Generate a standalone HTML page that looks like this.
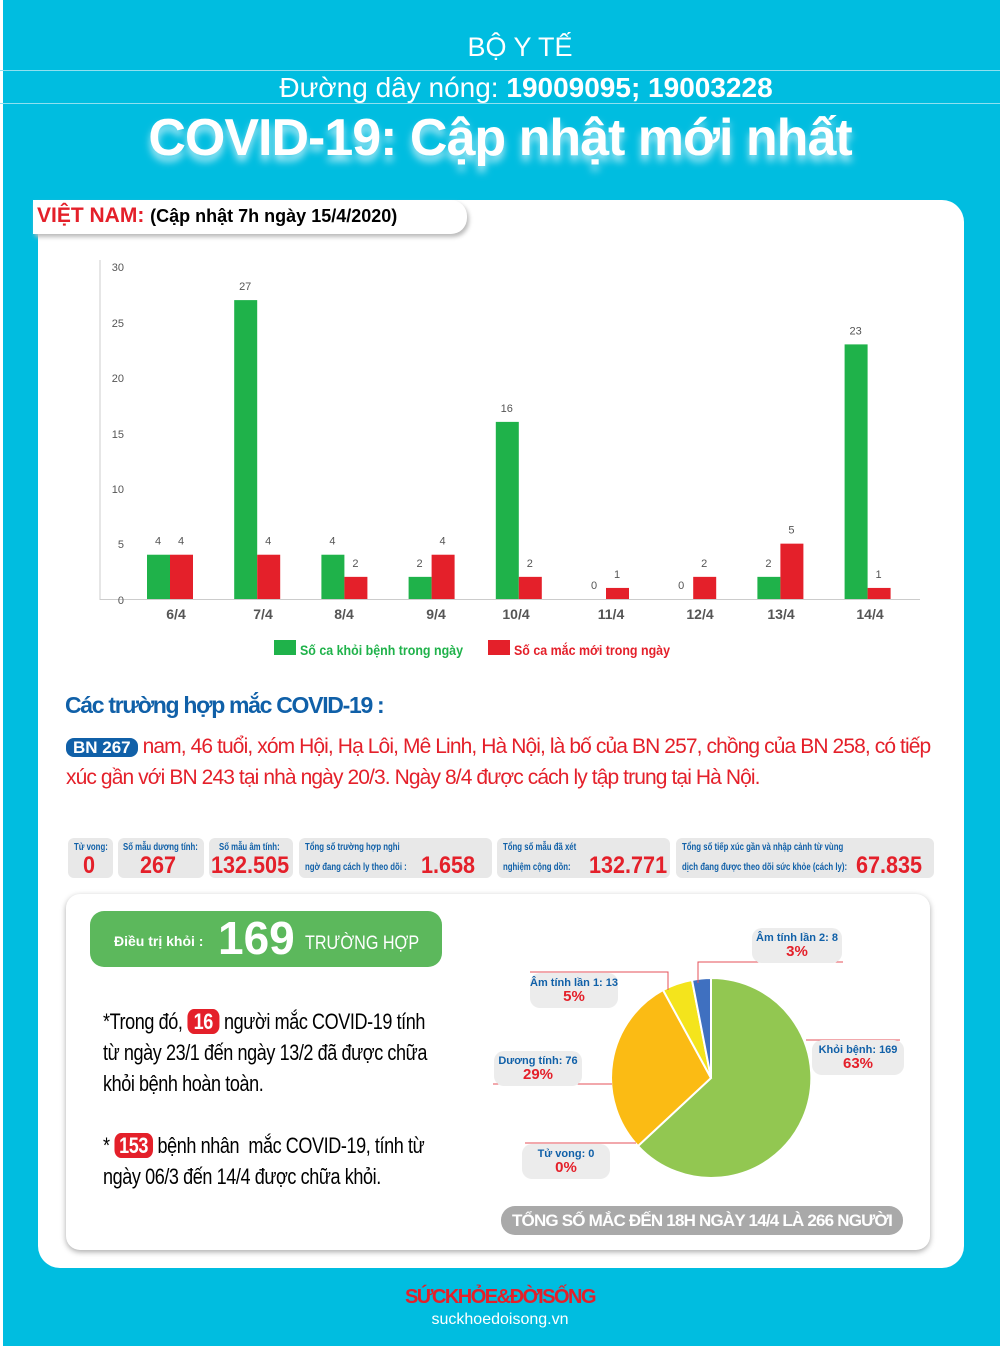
<!DOCTYPE html><html><head><meta charset="utf-8"><style>
body{margin:0;width:1000px;height:1346px;background:#00bde0;position:relative;overflow:hidden;font-family:"Liberation Sans",sans-serif}
.a{position:absolute}
.c{text-align:center}
.stat{position:absolute;top:838px;height:40px;background:#e8e8e8;border-radius:6px}
.stat .l{position:absolute;font-size:10px;color:#1060a8;font-weight:bold;white-space:nowrap;transform:scaleX(.78);transform-origin:left top}
.stat .v{position:absolute;font-size:24px;color:#e4202a;font-weight:bold;white-space:nowrap;transform:scaleX(.9);transform-origin:left top}
.lb{position:absolute;background:#ececec;border-radius:10px;text-align:center;font-size:11px;color:#1060a8;font-weight:bold;line-height:14px;padding-top:3px;white-space:nowrap}
.lb b{display:block;color:#e4202a;font-size:15px}
</style></head><body>
<div class="a" style="left:0;top:0;width:3px;height:1346px;background:#fff"></div>
<div class="a" style="left:0;top:70px;width:1000px;height:1px;background:#8fe0f0"></div>
<div class="a" style="left:0;top:103px;width:1000px;height:1px;background:#8fe0f0"></div>
<div class="a c" style="left:0;top:32px;width:1040px;color:#fff;font-size:27px">BỘ Y TẾ</div>
<div class="a c" style="left:0;top:72px;width:1052px;color:#fff;font-size:28px">Đường dây nóng: <b>19009095; 19003228</b></div>
<div class="a c" style="left:0;top:108px;width:1000px;color:#fff;font-size:52px;font-weight:bold;letter-spacing:-1px;text-shadow:0 6px 8px rgba(255,255,255,.7)">COVID-19: Cập nhật mới nhất</div>
<div class="a" style="left:38px;top:200px;width:926px;height:1068px;background:#fff;border-radius:22px"></div>
<div class="a" style="left:33px;top:200px;width:434px;height:34px;background:#fff;border-radius:0 16px 16px 0;box-shadow:2px 3px 4px #bbb"></div>
<div class="a" style="left:37px;top:204px;font-size:21px;font-weight:bold"><span style="color:#e4202a">VIỆT NAM:</span> <span style="font-size:18px">(Cập nhật 7h ngày 15/4/2020)</span></div>
<svg class="a" style="left:0;top:0" width="1000" height="700" font-family="Liberation Sans" font-size="11" fill="#555">
<line x1="100" y1="260" x2="100" y2="600" stroke="#ccc"/><line x1="100" y1="599.5" x2="920" y2="599.5" stroke="#ccc"/>
<g text-anchor="end"><text x="124" y="271">30</text><text x="124" y="327">25</text><text x="124" y="382">20</text><text x="124" y="438">15</text><text x="124" y="493">10</text><text x="124" y="548">5</text><text x="124" y="604">0</text></g>
<g id="bars"></g>
<g font-size="14" font-weight="bold" text-anchor="middle" fill="#555"><text x="176" y="619">6/4</text><text x="263" y="619">7/4</text><text x="344" y="619">8/4</text><text x="436" y="619">9/4</text><text x="516" y="619">10/4</text><text x="611" y="619">11/4</text><text x="700" y="619">12/4</text><text x="781" y="619">13/4</text><text x="870" y="619">14/4</text></g>
<rect x="274" y="640" width="22" height="15" fill="#1fb24a"/><text x="300" y="655" font-size="14" font-weight="bold" fill="#1fb24a" textLength="163" lengthAdjust="spacingAndGlyphs">Số ca khỏi bệnh trong ngày</text>
<rect x="488" y="640" width="22" height="15" fill="#e4202a"/><text x="514" y="655" font-size="14" font-weight="bold" fill="#e4202a" textLength="156" lengthAdjust="spacingAndGlyphs">Số ca mắc mới trong ngày</text>
</svg>
<div class="a" style="left:65px;top:692px;font-size:23px;font-weight:bold;color:#1060a8;letter-spacing:-1.3px">Các trường hợp mắc COVID-19 :</div>
<div class="a" style="left:66px;top:732px;width:870px;font-size:21px;color:#e4202a;line-height:30px;letter-spacing:-.9px"><span style="background:#1060a8;color:#fff;font-weight:bold;border-radius:8px;padding:0 7px;font-size:17px;letter-spacing:0">BN 267</span> nam, 46 tuổi, xóm Hội, Hạ Lôi, Mê Linh, Hà Nội, là bố của BN 257, chồng của BN 258, có tiếp xúc gần với BN 243 tại nhà ngày 20/3. Ngày 8/4 được cách ly tập trung tại Hà Nội.</div>
<div class="stat" style="left:68px;width:45px"><span class="l" style="left:6px;top:4px">Tử vong:</span><span class="v" style="left:15px;top:14px">0</span></div>
<div class="stat" style="left:118px;width:86px"><span class="l" style="left:5px;top:4px">Số mẫu dương tính:</span><span class="v" style="left:22px;top:14px">267</span></div>
<div class="stat" style="left:209px;width:84px"><span class="l" style="left:10px;top:4px">Số mẫu âm tính:</span><span class="v" style="left:2px;top:14px">132.505</span></div>
<div class="stat" style="left:299px;width:193px"><span class="l" style="left:6px;top:4px">Tổng số trường hợp nghi</span><span class="l" style="left:6px;top:24px">ngờ đang cách ly theo dõi :</span><span class="v" style="left:122px;top:14px">1.658</span></div>
<div class="stat" style="left:497px;width:173px"><span class="l" style="left:6px;top:4px">Tổng số mẫu đã xét</span><span class="l" style="left:6px;top:24px">nghiệm cộng dồn:</span><span class="v" style="left:92px;top:14px">132.771</span></div>
<div class="stat" style="left:676px;width:258px"><span class="l" style="left:6px;top:4px">Tổng số tiếp xúc gần và nhập cảnh từ vùng</span><span class="l" style="left:6px;top:24px">dịch đang được theo dõi sức khỏe (cách ly):</span><span class="v" style="left:180px;top:14px">67.835</span></div>
<div class="a" style="left:66px;top:894px;width:864px;height:356px;background:#fff;border-radius:14px;box-shadow:0 2px 6px #aaa"></div>
<div class="a" style="left:90px;top:911px;width:352px;height:56px;background:#5cb85c;border-radius:14px;color:#fff">
<span class="a" style="left:24px;top:22px;font-size:14px;font-weight:bold">Điều trị khỏi :</span>
<span class="a" style="left:128px;top:0px;font-size:46px;font-weight:bold">169</span>
<span class="a" style="left:215px;top:22px;font-size:19px;transform:scaleX(.85);transform-origin:left top;white-space:nowrap">TRƯỜNG HỢP</span></div>
<div class="a" style="left:103px;top:1006px;width:408px;font-size:22px;line-height:31px;letter-spacing:-.5px;transform:scaleX(.82);transform-origin:left top">*Trong đó, <span style="background:#e4202a;color:#fff;font-weight:bold;border-radius:8px;padding:0 8px">16</span> người mắc COVID-19 tính từ ngày 23/1 đến ngày 13/2 đã được chữa khỏi bệnh hoàn toàn.<br><br style="line-height:20px">* <span style="background:#e4202a;color:#fff;font-weight:bold;border-radius:8px;padding:0 6px">153</span> bệnh nhân &nbsp;mắc COVID-19, tính từ ngày 06/3 đến 14/4 được chữa khỏi.</div>
<svg class="a" style="left:0;top:0" width="1000" height="1346">
<g stroke="#fff" stroke-width="2">
<path d="M711 1078 L711 978 A100 100 0 1 1 638 1146 Z" fill="#92c751"/>
<path d="M711 1078 L638 1146 A100 100 0 0 1 663 990 Z" fill="#fbbb14"/>
<path d="M711 1078 L663 990 A100 100 0 0 1 692 980 Z" fill="#f4e41c"/>
<path d="M711 1078 L692 980 A100 100 0 0 1 711 978 Z" fill="#3f70c0"/></g>
<g stroke="#e4505a" fill="none" stroke-width="1"><path d="M698 983 V962 H843"/><path d="M668 990 V972 H530"/><path d="M612 1084 H493"/><path d="M636 1143 H525"/><path d="M806 1040 H900"/></g>
</svg>
<div class="lb" style="left:752px;top:928px;width:90px;height:32px">Âm tính lần 2: 8<b>3%</b></div>
<div class="lb" style="left:530px;top:973px;width:88px;height:32px">Âm tính lần 1: 13<b>5%</b></div>
<div class="lb" style="left:494px;top:1051px;width:88px;height:32px">Dương tính: 76<b>29%</b></div>
<div class="lb" style="left:522px;top:1144px;width:88px;height:32px">Tử vong: 0<b>0%</b></div>
<div class="lb" style="left:812px;top:1040px;width:92px;height:32px">Khỏi bệnh: 169<b>63%</b></div>
<div class="a c" style="left:501px;top:1206px;width:402px;height:29px;background:#a9a9a9;border-radius:14px;color:#fff;font-size:17px;font-weight:bold;line-height:29px;letter-spacing:-.8px;white-space:nowrap">TỔNG SỐ MẮC ĐẾN 18H NGÀY 14/4 LÀ 266 NGƯỜI</div>
<div class="a c" style="left:400px;top:1286px;width:200px;color:#e4202a;font-size:20px;font-weight:bold;letter-spacing:-1.5px">SỨCKHỎE&amp;ĐỜISỐNG</div>
<div class="a c" style="left:400px;top:1311px;width:200px;color:#fff;font-size:16px">suckhoedoisong.vn</div>
<script>
var g=[4,27,4,2,16,0,0,2,23],r=[4,4,2,4,2,1,2,5,1],s='',u=11.07;
for(var i=0;i<9;i++){var x=147+i*87.2;
s+='<rect x="'+x+'" y="'+(599-g[i]*u)+'" width="23" height="'+g[i]*u+'" fill="#1fb24a"/><rect x="'+(x+23)+'" y="'+(599-r[i]*u)+'" width="23" height="'+r[i]*u+'" fill="#e4202a"/>';
s+='<text x="'+(x+11)+'" y="'+(589-g[i]*u)+'" text-anchor="middle">'+g[i]+'</text><text x="'+(x+34)+'" y="'+(589-r[i]*u)+'" text-anchor="middle">'+r[i]+'</text>';}
document.getElementById('bars').innerHTML=s;
</script>
</body></html>
